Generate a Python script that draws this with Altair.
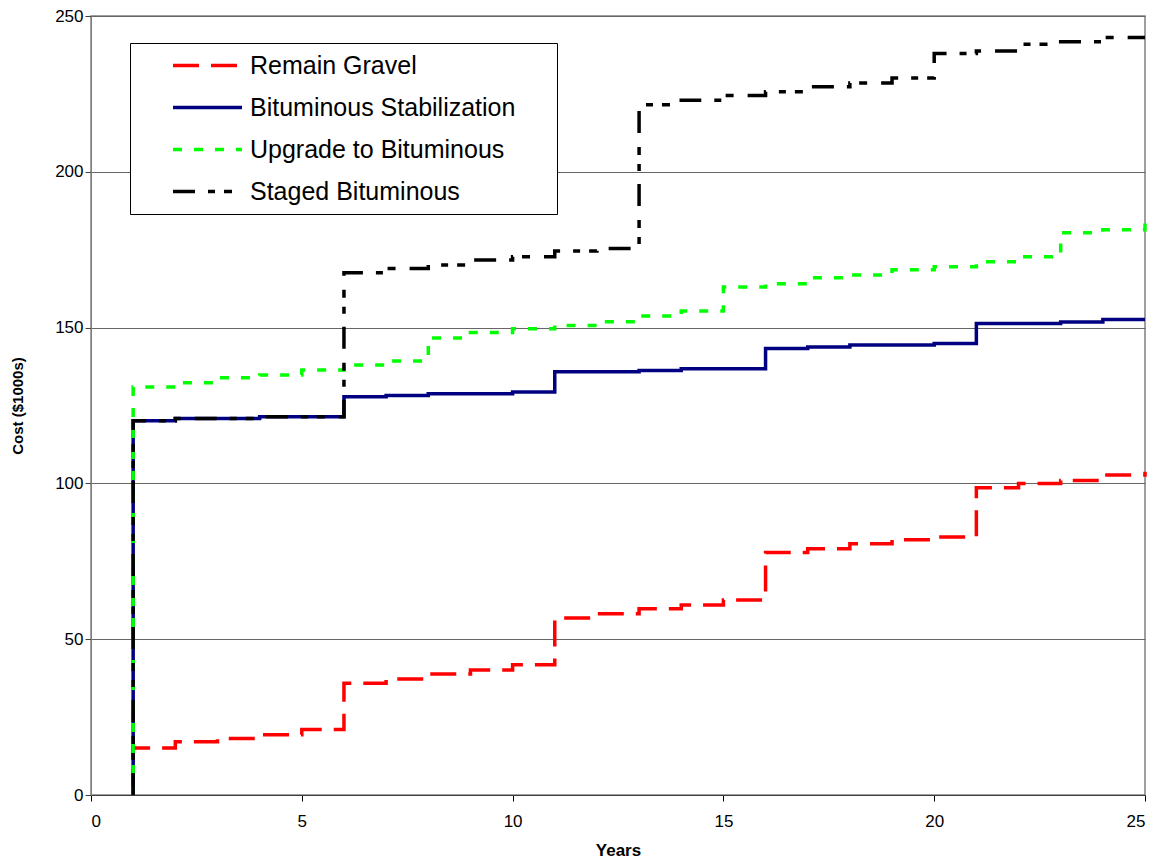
import altair as alt
import pandas as pd

years = list(range(1, 26))
series_names = ["Remain Gravel", "Bituminous Stabilization", "Upgrade to Bituminous", "Staged Bituminous"]

remain_gravel = [15.1, 17.1, 18.1, 19.3, 21.0, 35.9, 37.2, 38.8, 40.1, 41.8,
                 56.8, 58.2, 59.8, 61.0, 62.6, 77.8, 79.0, 80.6, 81.9, 82.8,
                 98.6, 100.0, 100.9, 102.7, 103.7]
bituminous_stab = [120.1, 120.8, 120.8, 121.4, 121.4, 127.8, 128.2, 128.8, 128.8, 129.3,
                   135.8, 135.8, 136.2, 136.8, 136.8, 143.3, 143.8, 144.4, 144.4, 144.9,
                   151.3, 151.3, 151.8, 152.6, 152.6]
upgrade_bit = [130.9, 132.3, 133.9, 134.8, 136.4, 138.0, 139.3, 146.7, 148.4, 149.6,
               150.7, 151.9, 153.7, 155.3, 163.0, 164.1, 166.0, 166.9, 168.6, 169.5,
               171.1, 172.7, 180.4, 181.4, 183.4]
staged_bit = [120.1, 120.8, 120.8, 121.4, 121.4, 167.6, 169.0, 170.1, 171.7, 172.7,
              174.6, 175.4, 221.5, 223.0, 224.5, 225.7, 227.3, 228.5, 230.1, 238.0,
              238.8, 240.9, 241.7, 243.1, 243.1]
start_year = 1
start_cost = 0

x_ticks = [0, 5, 10, 15, 20, 25]
y_ticks = [0, 50, 100, 150, 200, 250]

colors = ["#FF0000", "#000080", "#00FF00", "#000000"]
dashes = [[26, 12], [1, 0], [9, 12], [22, 13, 7, 9, 8, 14]]

rows = []
for name, vals in zip(series_names, [remain_gravel, bituminous_stab, upgrade_bit, staged_bit]):
    rows.append({"series": name, "year": start_year, "cost": start_cost, "idx": 0})
    for i, (yr, v) in enumerate(zip(years, vals)):
        rows.append({"series": name, "year": yr, "cost": v, "idx": i + 1})
df = pd.DataFrame(rows)

font = "Liberation Sans, Arial"

legend = alt.Legend(
    title=None, orient="none", legendX=39, legendY=27,
    strokeColor="#000000", fillColor="#ffffff", padding=9,
    symbolType="M-3,0H3", symbolSize=529, symbolStrokeWidth=3.5,
    symbolOffset=55, labelOffset=29, labelLimit=500,
    labelFont=font, labelFontSize=25, labelColor="#000000",
    rowPadding=15, labelExpr="datum.label + '\u00a0\u00a0\u2800'",
)

chart = alt.Chart(df).mark_line(interpolate="step-after", strokeWidth=3.5).encode(
    x=alt.X("year:Q",
            scale=alt.Scale(domain=[0, 25], nice=False, zero=False),
            axis=alt.Axis(values=x_ticks, title="Years", grid=False, format="d",
                          labelFont=font, labelFontSize=17, labelColor="#000000",
                          titleFont=font, titleFontSize=17, titleFontWeight="bold",
                          titleColor="#000000", titlePadding=13,
                          tickSize=6, tickColor="#000000", domainColor="#404040",
                          labelPadding=12)),
    y=alt.Y("cost:Q",
            scale=alt.Scale(domain=[0, 250], nice=False),
            axis=alt.Axis(values=y_ticks, title="Cost ($1000s)", grid=True, format="d",
                          gridColor="#666666", gridWidth=1,
                          labelFont=font, labelFontSize=17, labelColor="#000000",
                          titleFont=font, titleFontSize=15, titleFontWeight="bold",
                          titleColor="#000000", titlePadding=29,
                          tickSize=6, tickColor="#404040", domainColor="#808080",
                          labelPadding=2)),
    color=alt.Color("series:N", scale=alt.Scale(domain=series_names, range=colors), legend=legend),
    strokeDash=alt.StrokeDash("series:N", scale=alt.Scale(domain=series_names, range=dashes), legend=legend),
    order=alt.Order("idx:Q"),
).properties(
    width=1054, height=779,
    autosize=alt.AutoSizeParams(type="none"),
    padding={"left": 91, "top": 16, "right": 14, "bottom": 66},
).configure_view(
    stroke="#808080", strokeWidth=1.5
)

chart.save("out.html", embed_options={"renderer": "svg", "actions": False})
